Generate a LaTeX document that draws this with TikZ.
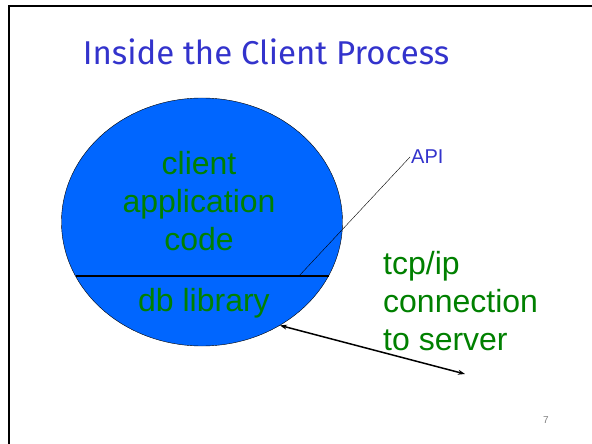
\documentclass[tikz,border=0pt]{standalone}
\usepackage{fontspec}
\setmainfont{Liberation Sans}
\newfontfamily\titlefont{Fira Sans}
\usetikzlibrary{shapes.geometric,arrows.meta}
\definecolor{procblue}{HTML}{0066FF}
\definecolor{codegreen}{HTML}{008000}
\definecolor{slideblue}{HTML}{3333CC}
\begin{document}
\begin{tikzpicture}[x=1pt, y=-1pt,
		big/.style={text=codegreen, font=\fontsize{32}{38}\selectfont, align=center, inner sep=0pt},
		proc/.style={ellipse, draw, thin, fill=procblue, minimum width=281pt, minimum height=248pt, inner sep=0pt}]
	\useasboundingbox (0,0) rectangle (592,444);
	\draw[line width=2pt] (9,444) |- (592,6);
	\node[text=slideblue, font=\titlefont\fontsize{33}{40}\selectfont] (title) at (266,52) {Inside the Client Process};
	% the process
	\node[proc] (client) at (202,222) {};
	\coordinate (libL) at (75.5,276);
	\coordinate (libR) at (328.5,276);
	\draw[line width=1.6pt] (libL) -- (libR);
	\node[big] (app) at (199,201) {client\\application\\code};
	\node[big] (lib) at (204,303) {db library};
	% API and the connection
	\coordinate (apifoot) at (299,276);
	\node[anchor=west, text=slideblue, font=\fontsize{20}{22}\selectfont, inner sep=1pt] (api) at (410,157) {API};
	\draw[thin] (apifoot) -- (api.west);
	\node[big, align=left, anchor=west] (tcp) at (383,301) {tcp/ip\\connection\\to server};
	\coordinate (server) at (465,374);
	\draw[line width=1.5pt, {Stealth[length=7pt,width=5pt]}-{Stealth[length=7pt,width=5pt]}] (client.-53) -- (server);
	\node[text=gray, font=\fontsize{10}{12}\selectfont] (page) at (546,420) {7};
\end{tikzpicture}
\end{document}
